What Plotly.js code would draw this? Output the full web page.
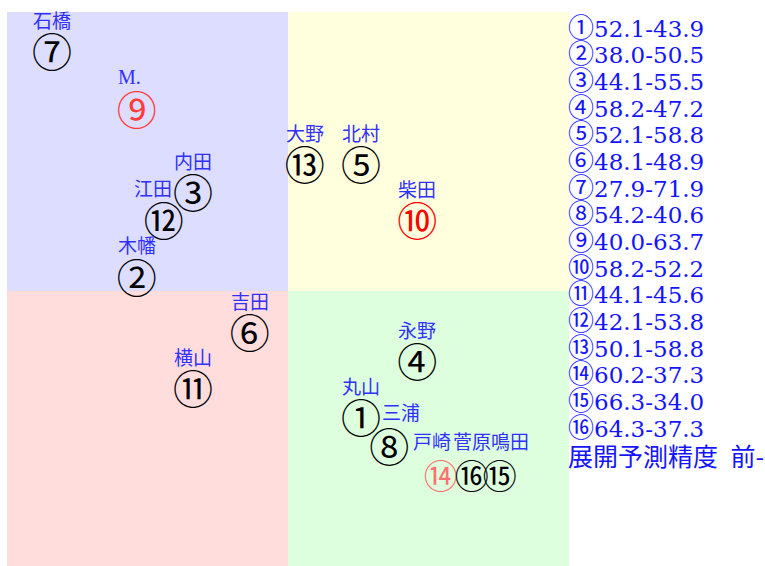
<!DOCTYPE html>
<html>
<head>
<meta charset="utf-8">
<script src="https://cdn.plot.ly/plotly-3.0.1.min.js"></script>
<style>
  html, body { margin: 0; padding: 0; background: #fff; overflow: hidden; }
  #chart { width: 765px; height: 566px; }
</style>
</head>
<body>
<div id="chart"></div>
<script>
// ---- data ----
const pointIds = ['①','②','③','④','⑤','⑥','⑦','⑧','⑨','⑩','⑪','⑫','⑬','⑭','⑮','⑯'];
const names = ['丸山','木幡','内田','永野','北村','吉田','石橋','三浦','M.','柴田','横山','江田','大野','戸崎','鳴田','菅原'];
const xVals = [63.0, 23.1, 33.1, 73.0, 63.0, 43.2, 8.0, 68.0, 23.1, 73.0, 33.1, 27.9, 53.0, 77.2, 87.7, 82.7];
const yVals = [26.3, 51.5, 66.6, 36.3, 71.6, 41.5, 91.9, 21.2, 81.6, 61.6, 31.5, 61.6, 71.6, 16.0, 16.0, 16.0];
const listA = [52.1, 38.0, 44.1, 58.2, 52.1, 48.1, 27.9, 54.2, 40.0, 58.2, 44.1, 42.1, 50.1, 60.2, 66.3, 64.3];
const listB = [43.9, 50.5, 55.5, 47.2, 58.8, 48.9, 71.9, 40.6, 63.7, 52.2, 45.6, 53.8, 58.8, 37.3, 34.0, 37.3];
const footerText = '展開予測精度\u2002前-後';

// ---- styles ----
const idColors = pointIds.map((_, i) => i === 8 ? '#ff3b3b' : i === 9 ? '#ff0000' : i === 13 ? '#ff7070' : '#000000');
const idSizes = pointIds.map((_, i) => i >= 13 ? 34 : 40);
const labelShift = [[0,38],[0,38],[0,38],[0,38],[0,38],[0,38],[0,38],[12,40],[-7,38],[0,38],[0,38],[-11,39],[0,38],[-9,40],[10,40],[0,40]];
const W = 765, H = 566, mL = 7, mR = 196, mT = 12, mB = 0;
const plotH = H - mT - mB;

const trace = {
  type: 'scatter', mode: 'text',
  x: xVals, y: yVals, text: pointIds,
  textposition: 'middle center',
  textfont: { family: 'Noto Sans CJK JP', size: idSizes, color: idColors },
  hoverinfo: 'none', cliponaxis: false, showlegend: false
};

const annotations = [];
names.forEach((n, i) => {
  annotations.push({
    x: xVals[i], y: yVals[i], xref: 'x', yref: 'y', text: n, showarrow: false,
    xanchor: 'center', yanchor: 'middle', xshift: labelShift[i][0], yshift: labelShift[i][1],
    font: { family: n === 'M.' ? 'Liberation Serif, DejaVu Serif' : 'Noto Sans CJK JP', size: n === 'M.' ? 20 : 19, color: '#3030ff' }
  });
});
const listLines = listA.map((a, i) =>
  '<span style="font-family:Noto Sans CJK JP;font-size:26px">' + pointIds[i] + '</span>' +
  a.toFixed(1) + '-' + listB[i].toFixed(1));
listLines.forEach((t, i) => {
  const py = 25 + 26.67 * i;
  annotations.push({
    x: 1, y: 1 - (py - mT) / plotH, xref: 'paper', yref: 'paper', text: t, showarrow: false,
    xanchor: 'left', yanchor: 'middle', xshift: -3,
    font: { family: 'DejaVu Serif, Noto Sans CJK JP', size: 23, color: '#1414ff' }
  });
});
annotations.push({
  x: 1, y: 1 - (28 + 26.67 * 16 - mT) / plotH, xref: 'paper', yref: 'paper', text: footerText, showarrow: false,
  xanchor: 'left', yanchor: 'middle', xshift: -3,
  font: { family: 'Noto Sans CJK JP', size: 25, color: '#1414ff' }
});

const quad = (x0, x1, y0, y1, c) => ({ type: 'rect', xref: 'x', yref: 'y', x0, x1, y0, y1, fillcolor: c, line: { width: 0 }, layer: 'below' });

const layout = {
  width: W, height: H,
  margin: { l: mL, r: mR, t: mT, b: mB, pad: 0 },
  paper_bgcolor: '#ffffff', plot_bgcolor: '#ffffff',
  xaxis: { range: [0, 100], showgrid: false, zeroline: false, showticklabels: false, ticks: '', showline: false, fixedrange: true },
  yaxis: { range: [0.7, 100], showgrid: false, zeroline: false, showticklabels: false, ticks: '', showline: false, fixedrange: true },
  shapes: [
    quad(0, 50, 50, 100, '#ddddff'),
    quad(50, 100, 50, 100, '#ffffdd'),
    quad(0, 50, 0, 50, '#ffdddd'),
    quad(50, 100, 0, 50, '#ddffdd')
  ],
  annotations: annotations,
  showlegend: false
};

Plotly.newPlot('chart', [trace], layout, { displayModeBar: false, staticPlot: true });
</script>
</body>
</html>
